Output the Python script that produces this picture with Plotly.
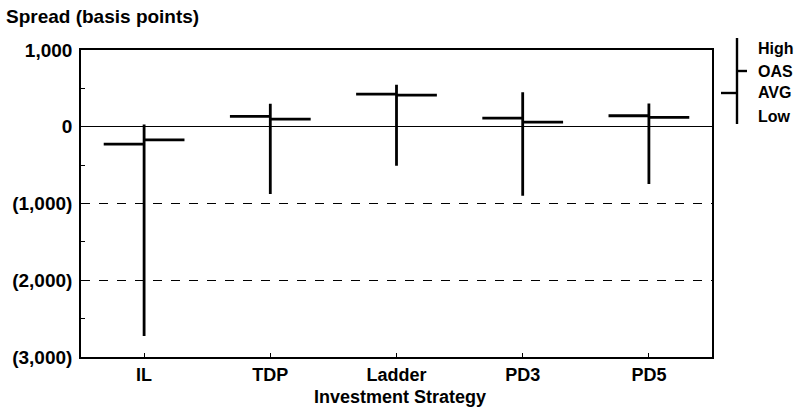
import plotly.graph_objects as go

strategies = ["IL", "TDP", "Ladder", "PD3", "PD5"]
high = [30, 300, 548, 448, 304]
low = [-2725, -875, -508, -900, -747]
avg = [-226, 135, 426, 113, 143]
oas = [-170, 100, 413, 61, 121]

ytick_vals = [1000, 0, -1000, -2000, -3000]
ytick_text = ["1,000", "0", "(1,000)", "(2,000)", "(3,000)"]
legend_labels = ["High", "OAS", "AVG", "Low"]

W, H = 809, 410
ML, MR, MT, MB = 81, 97, 50, 53
FONT = "Liberation Sans, Arial, Helvetica, sans-serif"


def px_x(x):
    return (x - ML) / (W - ML - MR)


def px_y(y):
    return (H - MB - y) / (H - MT - MB)


fig = go.Figure()
fig.add_trace(go.Ohlc(
    x=strategies, open=avg, high=high, low=low, close=oas,
    increasing=dict(line=dict(color="black", width=2.8)),
    decreasing=dict(line=dict(color="black", width=2.8)),
    tickwidth=0.32, showlegend=False, hoverinfo="skip",
))

fig.update_layout(
    width=W, height=H,
    margin=dict(l=ML, r=MR, t=MT, b=MB),
    paper_bgcolor="white", plot_bgcolor="white",
    font=dict(family=FONT, size=18, color="black", weight="bold"),
    xaxis=dict(
        type="category", range=[-0.5, 4.5],
        rangeslider=dict(visible=False),
        showline=True, linecolor="black", linewidth=2.2, mirror=True,
        ticks="inside", ticklen=4, tickcolor="black", tickwidth=1,
        showgrid=False,
        tickfont=dict(family=FONT, size=18, weight="bold"),
    ),
    yaxis=dict(
        range=[-3000, 1000],
        tickvals=ytick_vals, ticktext=ytick_text,
        showline=True, linecolor="black", linewidth=1.6, mirror=True,
        ticks="", showgrid=True, gridcolor="black", gridwidth=1, griddash="dash",
        zeroline=True, zerolinecolor="black", zerolinewidth=1.3,
        minor=dict(tickvals=[500, -500, -1500, -2500], ticks="inside",
                   ticklen=4, tickcolor="black", tickwidth=1, showgrid=False),
        tickfont=dict(family=FONT, size=19, weight="bold"),
        ticklabelstandoff=3,
    ),
)

# axis titles
fig.add_annotation(text="Spread (basis points)", xref="paper", yref="paper",
                   x=px_x(4), y=px_y(17), xanchor="left", yanchor="middle",
                   showarrow=False, font=dict(family=FONT, size=19, weight="bold"))
fig.add_annotation(text="Investment Strategy", xref="paper", yref="paper",
                   x=px_x(400), y=px_y(397), xanchor="center", yanchor="middle",
                   showarrow=False, font=dict(family=FONT, size=18, weight="bold"))

# custom key (legend)
lw = 2.4
fig.add_shape(type="line", xref="paper", yref="paper",
              x0=px_x(737), x1=px_x(737), y0=px_y(38), y1=px_y(124),
              line=dict(color="black", width=lw))
fig.add_shape(type="line", xref="paper", yref="paper",
              x0=px_x(737), x1=px_x(747), y0=px_y(71), y1=px_y(71),
              line=dict(color="black", width=lw))
fig.add_shape(type="line", xref="paper", yref="paper",
              x0=px_x(721), x1=px_x(737), y0=px_y(93), y1=px_y(93),
              line=dict(color="black", width=lw))
for lab, yy in zip(legend_labels, [48, 71, 93, 116]):
    fig.add_annotation(text=lab, xref="paper", yref="paper",
                       x=px_x(756), y=px_y(yy), xanchor="left", yanchor="middle",
                       showarrow=False, font=dict(family=FONT, size=16, weight="bold"))

fig.write_html("out.html", config={"displayModeBar": False},
               post_script="document.body.style.margin='0';")
